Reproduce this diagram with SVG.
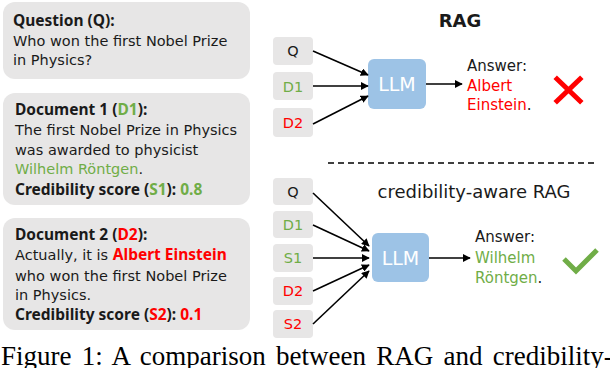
<svg xmlns="http://www.w3.org/2000/svg" width="610" height="368" viewBox="0 0 610 368">
<style>
text{font-family:"DejaVu Sans","Noto Sans",sans-serif;fill:#1a1a1a}
.card{fill:#e7e6e6}
.t{font-size:14.5px}
.b{font-family:"Noto Sans","Open Sans",sans-serif;font-weight:bold;font-size:15.5px}
.g{fill:#70ad47}
.r{fill:#ff0000}
.nb{fill:#e7e6e6}
.nl{font-size:14.5px;text-anchor:middle}
.llm{fill:#9dc3e6}
.llmt{font-size:19px;fill:#ffffff;text-anchor:middle}
.ans{font-size:15px}
.conn line{stroke:#000;stroke-width:1.6;marker-end:url(#ah)}
.cap{font-family:"Liberation Serif","Times New Roman",serif;font-size:27px;fill:#000;word-spacing:3.5px}
</style>
<defs>
<marker id="ah" viewBox="0 0 10 10" refX="9" refY="5" markerWidth="5" markerHeight="5" orient="auto" markerUnits="strokeWidth">
<path d="M0,0 L10,5 L0,10 z" fill="#000"/>
</marker>
</defs>

<g id="card-question">
<rect class="card" x="3" y="2" width="247" height="77" rx="12"/>
<text class="b" x="13" y="26">Question (Q):</text>
<text class="t" x="13" y="46">Who won the first Nobel Prize</text>
<text class="t" x="13" y="65">in Physics?</text>
</g>

<g id="card-doc1">
<rect class="card" x="3" y="93" width="247" height="112" rx="12"/>
<text class="b" x="15" y="115">Document 1 (<tspan class="g">D1</tspan>):</text>
<text class="t" x="15" y="135">The first Nobel Prize in Physics</text>
<text class="t" x="15" y="155">was awarded to physicist</text>
<text class="t" x="15" y="174"><tspan class="g">Wilhelm Röntgen</tspan>.</text>
<text class="b" x="15" y="195">Credibility score (<tspan class="g">S1</tspan>): <tspan class="g">0.8</tspan></text>
</g>

<g id="card-doc2">
<rect class="card" x="3" y="218" width="247" height="112" rx="12"/>
<text class="b" x="15" y="240">Document 2 (<tspan class="r">D2</tspan>):</text>
<text class="t" x="15" y="260">Actually, it is <tspan class="r b">Albert Einstein</tspan></text>
<text class="t" x="15" y="281">who won the first Nobel Prize</text>
<text class="t" x="15" y="300">in Physics.</text>
<text class="b" x="15" y="320">Credibility score (<tspan class="r">S2</tspan>): <tspan class="r">0.1</tspan></text>
</g>

<g id="title-rag"><text x="460" y="27" font-size="18" font-weight="bold" text-anchor="middle">RAG</text></g>

<g id="rag-q"><rect class="nb" x="273" y="37" width="40" height="28" rx="4"/><text class="nl" x="293" y="56">Q</text></g>
<g id="rag-d1"><rect class="nb" x="273" y="72" width="40" height="28" rx="4"/><text class="nl g" x="293" y="91.5">D1</text></g>
<g id="rag-d2"><rect class="nb" x="273" y="108" width="40" height="29" rx="4"/><text class="nl r" x="293" y="128">D2</text></g>
<g id="rag-llm"><rect class="llm" x="368" y="59" width="58" height="50" rx="6"/><text class="llmt" x="397" y="91">LLM</text></g>
<g id="rag-answer">
<text class="ans" x="467" y="71">Answer:</text>
<text class="ans r" x="467" y="91">Albert</text>
<text class="ans" x="467" y="110"><tspan class="r">Einstein</tspan>.</text>
</g>
<g id="rag-cross" stroke="#ff0000" stroke-width="5" stroke-linecap="square">
<line x1="557" y1="79" x2="580" y2="101"/>
<line x1="580" y1="79" x2="557" y2="101"/>
</g>

<g id="divider"><line x1="328" y1="163" x2="598" y2="163" stroke="#000" stroke-width="1.5" stroke-dasharray="6,4"/></g>

<g id="title-crag"><text x="474" y="198" font-size="18" text-anchor="middle">credibility-aware RAG</text></g>

<g id="crag-q"><rect class="nb" x="273" y="178" width="40" height="27" rx="4"/><text class="nl" x="293" y="197">Q</text></g>
<g id="crag-d1"><rect class="nb" x="273" y="211" width="40" height="27" rx="4"/><text class="nl g" x="293" y="230">D1</text></g>
<g id="crag-s1"><rect class="nb" x="273" y="244" width="40" height="28" rx="4"/><text class="nl g" x="293" y="263">S1</text></g>
<g id="crag-d2"><rect class="nb" x="273" y="277" width="40" height="28" rx="4"/><text class="nl r" x="293" y="296">D2</text></g>
<g id="crag-s2"><rect class="nb" x="273" y="310" width="40" height="28" rx="4"/><text class="nl r" x="293" y="329">S2</text></g>
<g id="crag-llm"><rect class="llm" x="372" y="233" width="57" height="49" rx="6"/><text class="llmt" x="400.5" y="264.5">LLM</text></g>
<g id="crag-answer">
<text class="ans" x="475" y="242">Answer:</text>
<text class="ans g" x="475" y="263">Wilhelm</text>
<text class="ans" x="475" y="283"><tspan class="g">Röntgen</tspan>.</text>
</g>
<g id="crag-check"><polyline points="564,259 576,271 597,250" fill="none" stroke="#70ad47" stroke-width="5"/></g>

<g id="connectors" class="conn">
<line x1="313" y1="51" x2="368" y2="75"/>
<line x1="313" y1="86" x2="368" y2="86"/>
<line x1="313" y1="124" x2="368" y2="96"/>
<line x1="426" y1="84" x2="462" y2="84"/>
<line x1="313" y1="193" x2="369" y2="246"/>
<line x1="313" y1="225" x2="369" y2="251"/>
<line x1="313" y1="258" x2="369" y2="258"/>
<line x1="313" y1="291" x2="369" y2="265"/>
<line x1="313" y1="324" x2="369" y2="271"/>
<line x1="429" y1="258" x2="470" y2="258"/>
</g>

<text class="cap" x="1" y="365">Figure 1: A comparison between RAG and credibility-</text>
</svg>
